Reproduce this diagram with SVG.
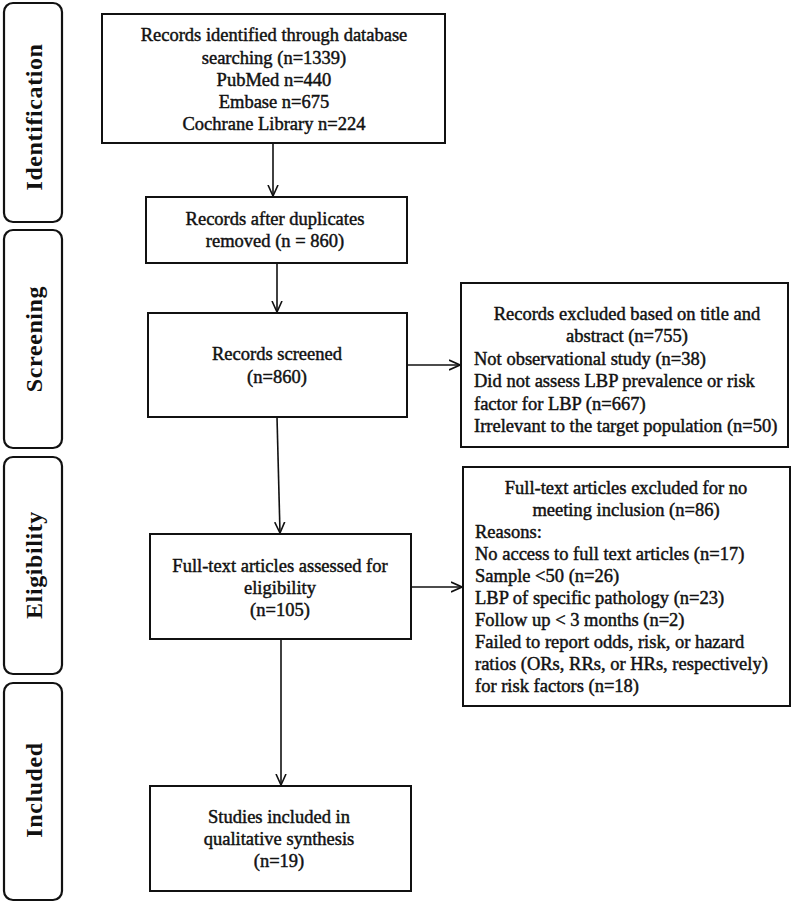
<svg xmlns="http://www.w3.org/2000/svg" width="794" height="904" viewBox="0 0 794 904">
<defs>
<style>
.stage{fill:#fff;stroke:#111;stroke-width:2.2}
.box{fill:#fff;stroke:#111;stroke-width:2}
.lbl{font-family:"Liberation Serif","Times New Roman",serif;font-weight:bold;font-size:24px;fill:#111;text-anchor:middle;letter-spacing:0.6px}
.t{font-family:"Liberation Serif","Times New Roman",serif;font-size:18.5px;fill:#111;stroke:#111;stroke-width:0.45}
.c{text-anchor:middle}
.conn{stroke:#111;stroke-width:1.6;fill:none}
</style>
<marker id="arr" viewBox="0 0 12 12" refX="11" refY="6" markerWidth="12" markerHeight="12" markerUnits="userSpaceOnUse" orient="auto">
<path d="M0,1 L11,6 L0,11" fill="none" stroke="#111" stroke-width="1.6"/>
</marker>
</defs>
<rect width="794" height="904" fill="#fff"/>

<g id="stage-identification">
<rect class="stage" x="4" y="3" width="58" height="219" rx="9"/>
<text class="lbl" transform="translate(42,117) rotate(-90)">Identification</text>
</g>
<g id="stage-screening">
<rect class="stage" x="4" y="230" width="58" height="218" rx="9"/>
<text class="lbl" transform="translate(42,339) rotate(-90)">Screening</text>
</g>
<g id="stage-eligibility">
<rect class="stage" x="4" y="457" width="58" height="217" rx="9"/>
<text class="lbl" transform="translate(42,565) rotate(-90)">Eligibility</text>
</g>
<g id="stage-included">
<rect class="stage" x="4" y="683" width="58" height="217" rx="9"/>
<text class="lbl" transform="translate(42,790) rotate(-90)">Included</text>
</g>

<g id="identified">
<rect class="box" x="102" y="14" width="343" height="129"/>
<text class="t c" x="274" y="41">Records identified through database</text>
<text class="t c" x="274" y="64">searching (n=1339)</text>
<text class="t c" x="274" y="86">PubMed n=440</text>
<text class="t c" x="274" y="108">Embase n=675</text>
<text class="t c" x="274" y="130">Cochrane Library n=224</text>
</g>

<g id="after-duplicates">
<rect class="box" x="146" y="197" width="261" height="66"/>
<text class="t c" x="275" y="225">Records after duplicates</text>
<text class="t c" x="275" y="247">removed (n = 860)</text>
</g>

<g id="screened">
<rect class="box" x="148" y="313" width="259" height="104"/>
<text class="t c" x="277" y="360">Records screened</text>
<text class="t c" x="277" y="383">(n=860)</text>
</g>

<g id="excluded-title">
<rect class="box" x="461" y="283" width="327" height="164"/>
<text class="t c" x="627" y="320">Records excluded based on title and</text>
<text class="t c" x="627" y="342">abstract (n=755)</text>
<text class="t" x="474" y="365">Not observational study (n=38)</text>
<text class="t" x="474" y="387">Did not assess LBP prevalence or risk</text>
<text class="t" x="474" y="410">factor for LBP  (n=667)</text>
<text class="t" x="474" y="432">Irrelevant to the target population (n=50)</text>
</g>

<g id="fulltext-assessed">
<rect class="box" x="150" y="534" width="261" height="105"/>
<text class="t c" x="280" y="572">Full-text articles assessed for</text>
<text class="t c" x="280" y="594">eligibility</text>
<text class="t c" x="280" y="616">(n=105)</text>
</g>

<g id="fulltext-excluded">
<rect class="box" x="463" y="467" width="327" height="239"/>
<text class="t c" x="626" y="494">Full-text articles excluded for no</text>
<text class="t c" x="626" y="516">meeting inclusion (n=86)</text>
<text class="t" x="475" y="538">Reasons:</text>
<text class="t" x="475" y="560">No access to full text articles (n=17)</text>
<text class="t" x="475" y="582">Sample &lt;50  (n=26)</text>
<text class="t" x="475" y="604">LBP of specific pathology (n=23)</text>
<text class="t" x="475" y="626">Follow up &lt; 3 months (n=2)</text>
<text class="t" x="475" y="648">Failed to report odds, risk, or hazard</text>
<text class="t" x="475" y="670">ratios (ORs, RRs, or HRs, respectively)</text>
<text class="t" x="475" y="692">for risk factors (n=18)</text>
</g>

<g id="included">
<rect class="box" x="150" y="786" width="261" height="105"/>
<text class="t c" x="279" y="823">Studies included in</text>
<text class="t c" x="279" y="845">qualitative synthesis</text>
<text class="t c" x="279" y="867">(n=19)</text>
</g>

<g id="connectors">
<line class="conn" x1="273" y1="143" x2="273" y2="196" marker-end="url(#arr)"/>
<line class="conn" x1="277" y1="263" x2="277" y2="312" marker-end="url(#arr)"/>
<line class="conn" x1="277" y1="417" x2="280" y2="533" marker-end="url(#arr)"/>
<line class="conn" x1="281" y1="639" x2="281" y2="785" marker-end="url(#arr)"/>
<line class="conn" x1="407" y1="365" x2="460" y2="365" marker-end="url(#arr)"/>
<line class="conn" x1="411" y1="587" x2="462" y2="587" marker-end="url(#arr)"/>
</g>
</svg>
